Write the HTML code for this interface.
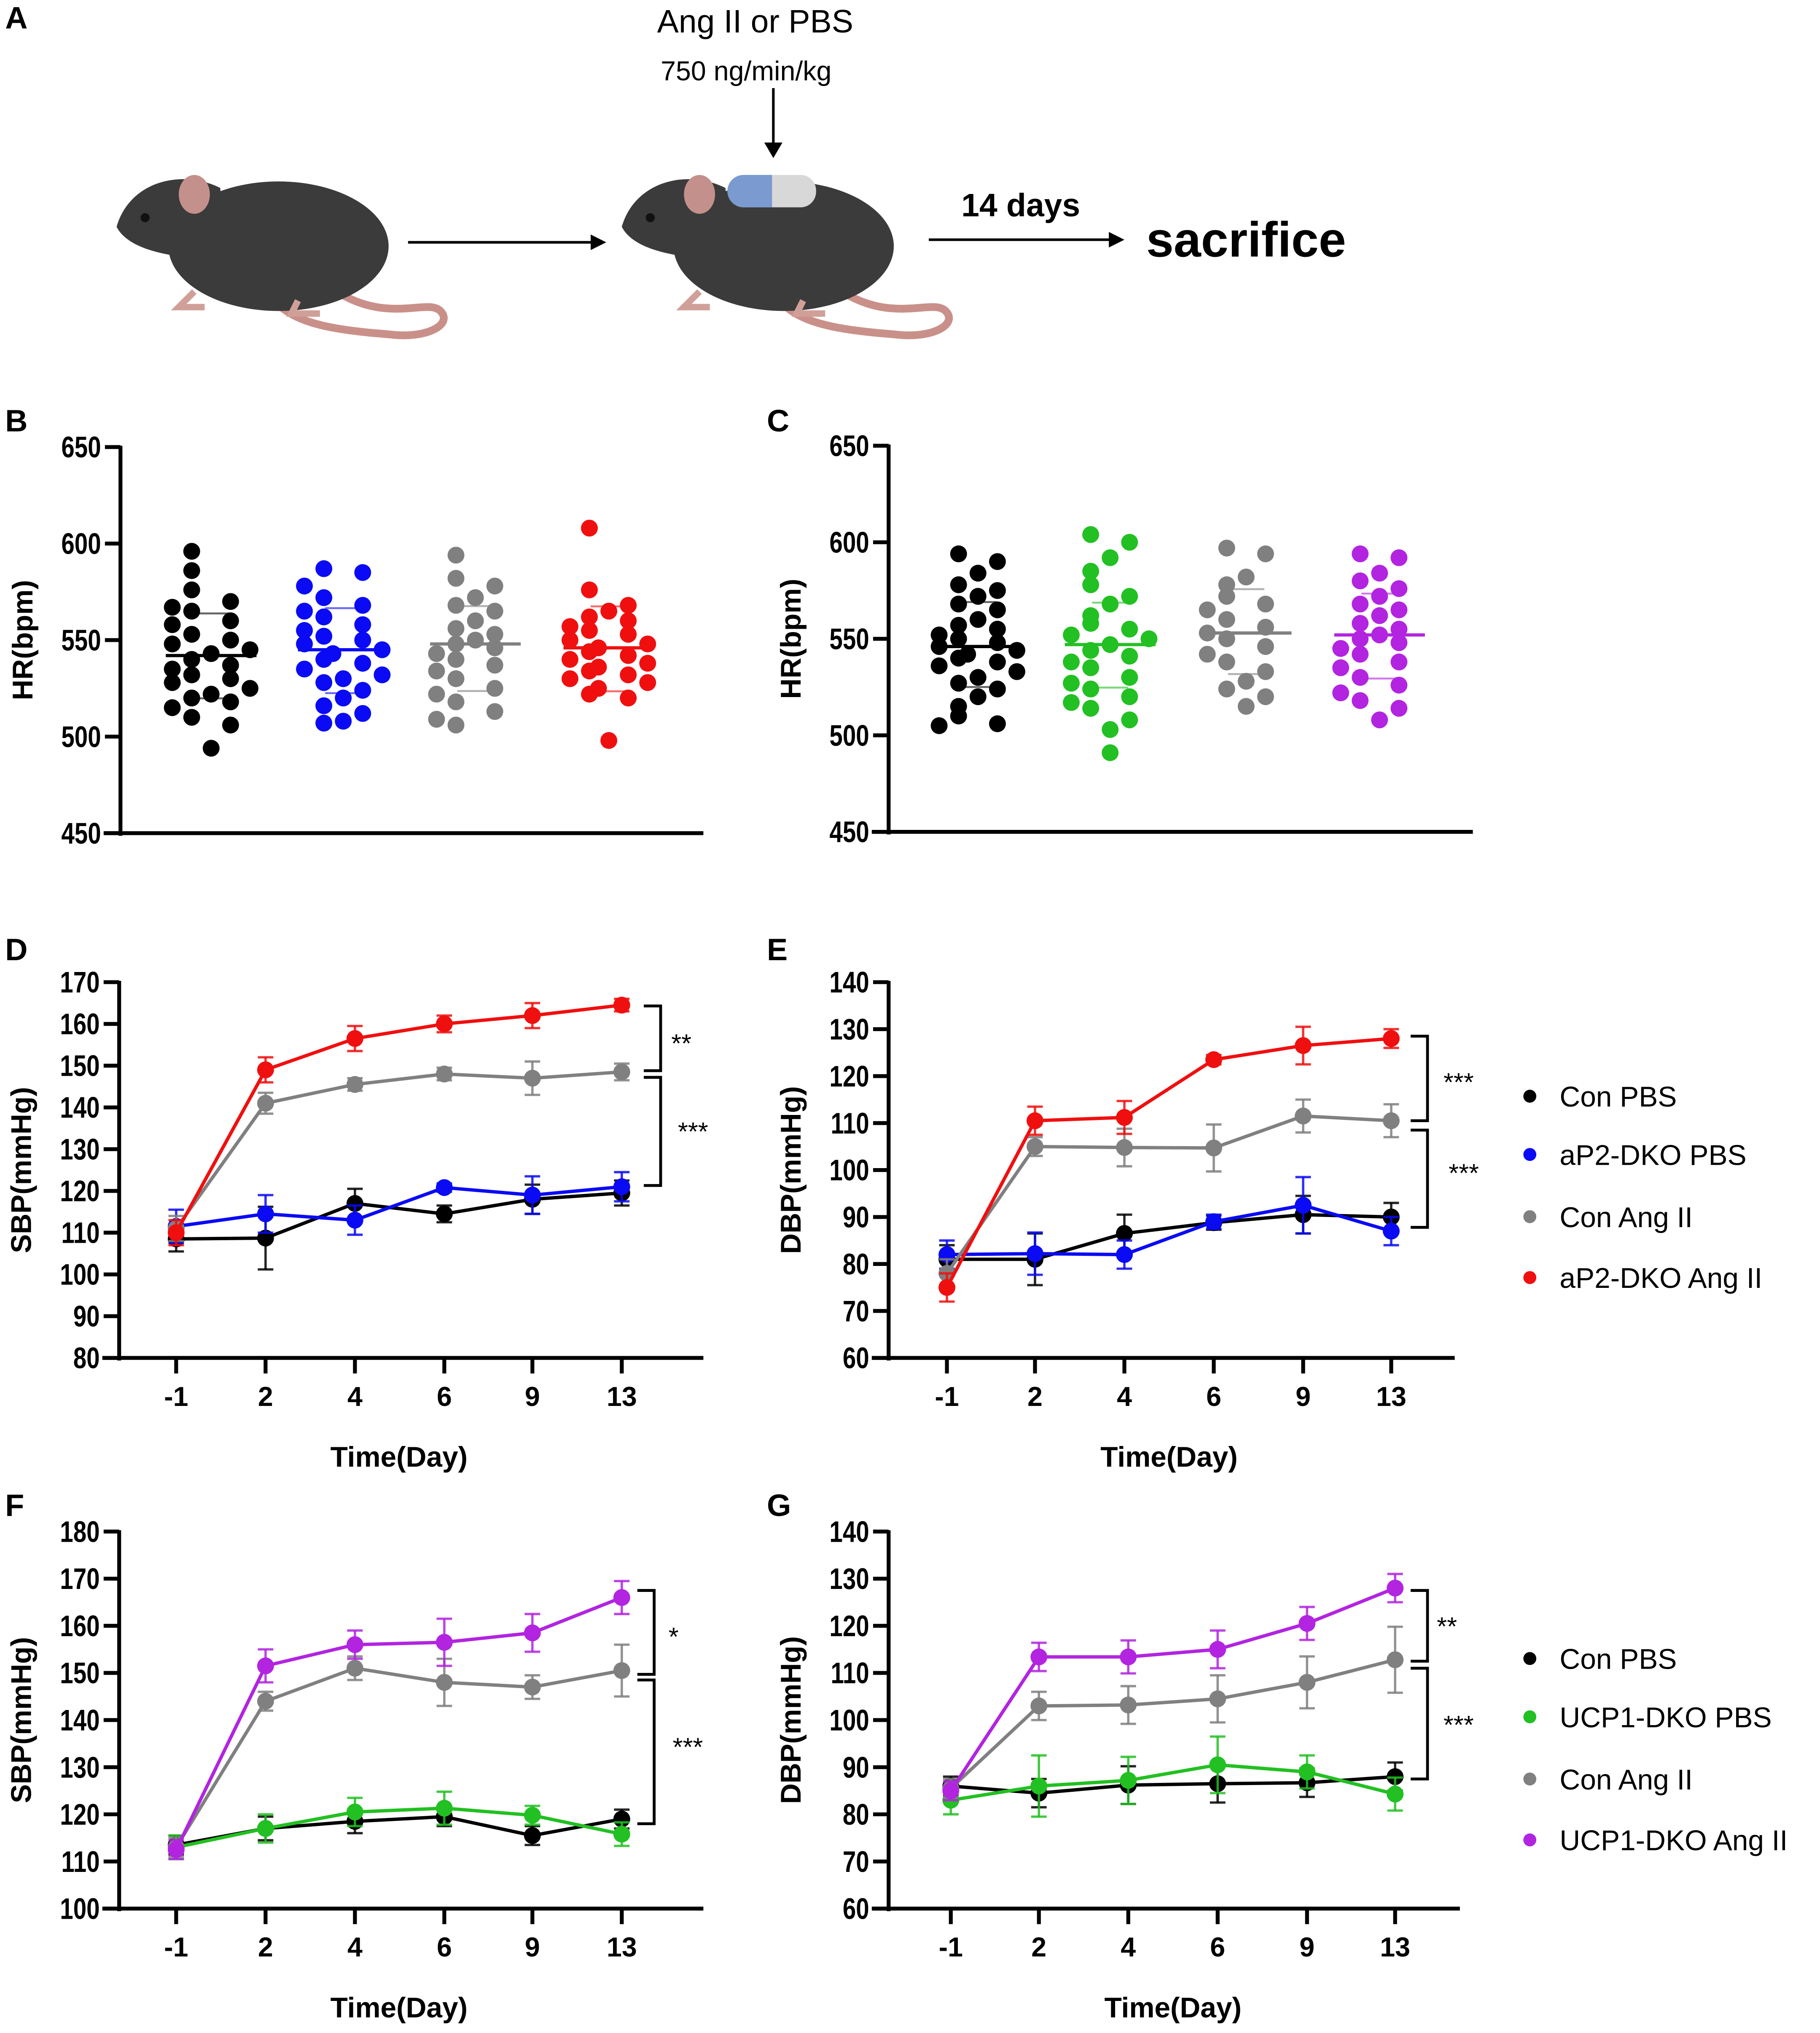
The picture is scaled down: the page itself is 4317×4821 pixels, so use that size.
<!DOCTYPE html>
<html><head><meta charset="utf-8"><style>
html,body{margin:0;padding:0;background:#fff;}
svg{display:block;font-family:"Liberation Sans",Arial,sans-serif;}
</style></head><body>
<svg id="fig" width="4317" height="4821" viewBox="0 0 1405 1569" xmlns="http://www.w3.org/2000/svg">
<g>
<text x="4" y="22" font-size="24" font-weight="bold">A</text>
<text x="583" y="25" font-size="25" text-anchor="middle">Ang II or PBS</text>
<text x="576" y="62" font-size="21" text-anchor="middle">750 ng/min/kg</text>
<line x1="597" y1="68" x2="597" y2="112" stroke="#000" stroke-width="2"/>
<polygon points="590,110 604,110 597,122" fill="#000"/>
<g>
<path d="M260,225 C300,250 330,230 340,240 C350,250 330,262 300,258 C260,255 230,250 215,235" fill="none" stroke="#c9908a" stroke-width="6"/>
<ellipse cx="215" cy="190" rx="85" ry="50" fill="#3b3b3b"/>
<path d="M90,175 C100,140 140,130 170,145 L175,200 C140,200 100,195 90,175 Z" fill="#3b3b3b"/>
<ellipse cx="150" cy="150" rx="12" ry="15" fill="#c4908c"/>
<circle cx="112" cy="168" r="3.5" fill="#111"/>
<path d="M150,225 l-12,12 h20 M230,232 l-5,10 h22" stroke="#d0a098" stroke-width="5" fill="none"/>
</g>
<line x1="315" y1="187" x2="458" y2="187" stroke="#000" stroke-width="2"/>
<polygon points="456,181 468,187 456,193" fill="#000"/>
<g>
<path d="M650,225 C690,250 720,230 730,240 C740,250 720,262 690,258 C650,255 620,250 605,235" fill="none" stroke="#c9908a" stroke-width="6"/>
<ellipse cx="605" cy="190" rx="85" ry="50" fill="#3b3b3b"/>
<path d="M480,175 C490,140 530,130 560,145 L565,200 C530,200 490,195 480,175 Z" fill="#3b3b3b"/>
<ellipse cx="540" cy="150" rx="12" ry="15" fill="#c4908c"/>
<circle cx="502" cy="168" r="3.5" fill="#111"/>
<path d="M540,225 l-12,12 h20 M620,232 l-5,10 h22" stroke="#d0a098" stroke-width="5" fill="none"/>
<rect x="562" y="135" width="68" height="25" rx="12" fill="#d8d8d8"/>
<path d="M574,135 h22 v25 h-22 a12,12 0 0 1 0,-25 z" fill="#7a9ad0"/>
</g>
<text x="788" y="167" font-size="25" font-weight="bold" text-anchor="middle">14 days</text>
<line x1="717" y1="185" x2="858" y2="185" stroke="#000" stroke-width="2"/>
<polygon points="856,179 868,185 856,191" fill="#000"/>
<text x="962" y="198" font-size="38" font-weight="bold" text-anchor="middle">sacrifice</text>
</g>
<g id="plots"></g>
</svg>
<script>
const hrTicks=[450,500,550,600,650];
const bBlack=[596,586,576,570,567,565,560,558,553,550,548,545,543,540,537,535,532,530,528,525,522,520,518,515,510,506,494];
const bBlue=[587,585,578,572,568,565,562,558,555,552,550,548,545,543,540,538,535,532,530,528,524,520,516,512,508,507];
const bGray=[594,582,578,572,568,565,560,556,553,550,548,546,543,540,537,534,530,525,522,518,513,509,506];
const bRed=[608,576,568,565,562,560,557,555,553,550,548,546,544,542,540,538,536,534,532,530,528,525,522,520,498];
const bMeans=[542,545,548,546];
const cBlack=[594,590,584,578,575,572,568,565,560,557,555,552,550,548,546,544,542,540,538,536,533,530,527,524,520,515,510,506,505];
const cGreen=[604,600,592,585,578,572,568,562,558,555,552,550,547,544,541,538,535,530,527,524,520,517,514,508,503,491];
const cGray=[597,594,582,578,572,568,565,560,556,553,550,546,542,538,533,528,524,520,515];
const cPurple=[594,592,584,580,576,572,568,565,562,558,555,552,550,548,545,542,538,535,530,526,522,518,514,508];
const cMeans=[546,547,553,552];
const days=["-1","2","4","6","9","13"];
const sbpTicksD=[80,90,100,110,120,130,140,150,160,170];
const dConPBS=[108.5,108.7,117,114.5,118,119.5];
const dConPBSerr=[3,7.5,3.5,2,3.5,3];
const dKoPBS=[111.5,114.5,113,120.8,119,121];
const dKoPBSerr=[4,4.5,3.5,1,4.5,3.5];
const dConAng=[111,141,145.5,148,147,148.5];
const dConAngErr=[3,2.5,1.5,1.5,4,2];
const dKoAng=[110,149,156.5,160,162,164.5];
const dKoAngErr=[3,3,3,2,3,1.5];
const dbpTicks=[60,70,80,90,100,110,120,130,140];
const eConPBS=[81,81,86.5,88.8,90.5,90];
const eConPBSerr=[3,5.5,4,1.5,4,3];
const eKoPBS=[82,82.2,82,89,92.5,87];
const eKoPBSerr=[3,4.5,3,1.5,6,3];
const eConAng=[78,105,104.8,104.7,111.5,110.5];
const eConAngErr=[3,2,4,5,3.5,3.5];
const eKoAng=[75,110.5,111.2,123.5,126.5,128];
const eKoAngErr=[3,3,3.5,1,4,2];
const sbpTicksF=[100,110,120,130,140,150,160,170,180];
const fConPBS=[113.5,117,118.5,119.5,115.5,119];
const fConPBSerr=[2,2.5,2.5,2,2,2];
const fKoPBS=[113,117,120.5,121.3,119.8,115.8];
const fKoPBSerr=[2.5,3,3,3.5,2,2.5];
const fConAng=[113,144,151,148,147,150.5];
const fConAngErr=[2,2,2.5,5,2.5,5.5];
const fKoAng=[112.5,151.5,156,156.5,158.5,166];
const fKoAngErr=[2,3.5,3,5,4,3.5];
const gConPBS=[86,84.5,86.2,86.5,86.7,88];
const gConPBSerr=[2,3,4,4,3,3];
const gKoPBS=[83,86,87.2,90.5,89,84.3];
const gKoPBSerr=[3,6.5,5,6,3.5,3.5];
const gConAng=[85.5,103,103.2,104.5,108,112.8];
const gConAngErr=[2,3,4,5,5.5,7];
const gKoAng=[85,113.4,113.4,115,120.5,128];
const gKoAngErr=[2,3,3.5,4,3.5,3];
const legendDE=["Con PBS","aP2-DKO PBS","Con Ang II","aP2-DKO Ang II"];
const legendFG=["Con PBS","UCP1-DKO PBS","Con Ang II","UCP1-DKO Ang II"];

const NS="http://www.w3.org/2000/svg";
const root=document.getElementById('plots');
function mk(tag,attrs,parent){const e=document.createElementNS(NS,tag);for(const k in attrs)e.setAttribute(k,attrs[k]);(parent||root).appendChild(e);return e;}
function txt(s,attrs,parent){const e=mk('text',attrs,parent);e.textContent=s;return e;}
const C={black:"#000",blue:"#0a0af5",gray:"#808080",red:"#f00f0f",green:"#22c022",purple:"#b224e0"};

function yAxis(g,x,yTop,yBot,ticks,label,xEnd){
  const lo=ticks[0],hi=ticks[ticks.length-1];
  const sc=v=>yBot-(v-lo)/(hi-lo)*(yBot-yTop);
  const ax=mk('line',{x1:x,y1:yTop-1,x2:x,y2:yBot+2,stroke:"#000","stroke-width":3},g);
  
  
  const xa=mk('line',{x1:x-13,y1:yBot,x2:xEnd,y2:yBot,stroke:"#000","stroke-width":3},g);
  
  
  ticks.forEach(t=>{
    mk('line',{x1:x-12,y1:sc(t),x2:x,y2:sc(t),stroke:"#000","stroke-width":3},g);
    const tl=txt(String(t),{x:x-15,y:sc(t)+8,"font-size":23,"font-weight":"bold","text-anchor":"end",transform:`translate(${x-15},0) scale(0.8,1) translate(${-(x-15)},0)`},g);
    
    
  });
  const yl=txt(label,{x:0,y:0,"font-size":22,"font-weight":"bold","text-anchor":"middle",transform:`translate(${x-68},${(yTop+yBot)/2}) rotate(-90)`},g);
  
  
  return sc;
}

function scatterPanel(name,letter,lx,ly,x,yTop,yBot,xEnd,centers,groups,colors,means){
  const g=mk('g',{});
  
  
  const pl=txt(letter,{x:lx,y:ly,"font-size":24,"font-weight":"bold"},g);
  
  
  const sc=yAxis(g,x,yTop,yBot,hrTicks,"HR(bpm)",xEnd);
  groups.forEach((vals,gi)=>{
    const cx=centers[gi];
    const sorted=[...vals].sort((a,b)=>b-a);
    const pattern=[0,-15,15,-30,30,-8,8,-22,22];
    let clusterStart=null,k=0;
    sorted.forEach(v=>{
      if(clusterStart===null||clusterStart-v>9){clusterStart=v;k=(k%2)?0:1;}
      const off=pattern[k%pattern.length];k++;
      const d=mk('circle',{cx:cx+off,cy:sc(v),r:6.5,fill:colors[gi]},g);
      
      
    });
    const m=mk('line',{x1:cx-35,x2:cx+35,y1:sc(means[gi]),y2:sc(means[gi]),stroke:colors[gi],"stroke-width":2.5},g);
    
    
    const sdv=[...vals].reduce((a,b)=>a+b,0)/vals.length;
    mk('line',{x1:cx-14,x2:cx+14,y1:sc(sdv+22),y2:sc(sdv+22),stroke:colors[gi],"stroke-width":1.5,opacity:.6},g);
    mk('line',{x1:cx-14,x2:cx+14,y1:sc(sdv-22),y2:sc(sdv-22),stroke:colors[gi],"stroke-width":1.5,opacity:.6},g);
  });
}

function linePanel(name,letter,lx,ly,x,yTop,yBot,xEnd,ticks,label,xs,series){
  const g=mk('g',{});
  
  
  const pl=txt(letter,{x:lx,y:ly,"font-size":24,"font-weight":"bold"},g);
  
  
  const sc=yAxis(g,x,yTop,yBot,ticks,label,xEnd);
  days.forEach((d,i)=>{
    mk('line',{x1:xs[i],x2:xs[i],y1:yBot,y2:yBot+12,stroke:"#000","stroke-width":3},g);
    const tl=txt(d,{x:xs[i],y:yBot+37,"font-size":21,"font-weight":"bold","text-anchor":"middle"},g);
    
    
  });
  const xt=txt("Time(Day)",{x:(xs[0]+xs[5])/2,y:yBot+84,"font-size":22,"font-weight":"bold","text-anchor":"middle"},g);
  
  
  series.forEach(s=>{
    const sg=mk('g',{},g);
    
    
    s.vals.forEach((v,i)=>{
      const e=s.err[i];
      mk('line',{x1:xs[i],x2:xs[i],y1:sc(v-e),y2:sc(v+e),stroke:s.color,"stroke-width":1.8,opacity:.85},sg);
      mk('line',{x1:xs[i]-6,x2:xs[i]+6,y1:sc(v+e),y2:sc(v+e),stroke:s.color,"stroke-width":1.8,opacity:.85},sg);
      mk('line',{x1:xs[i]-6,x2:xs[i]+6,y1:sc(v-e),y2:sc(v-e),stroke:s.color,"stroke-width":1.8,opacity:.85},sg);
    });
    const pts=s.vals.map((v,i)=>xs[i]+","+sc(v)).join(" ");
    const pl2=mk('polyline',{points:pts,fill:"none",stroke:s.color,"stroke-width":2.6},sg);
    
    
    s.vals.forEach((v,i)=>{
      const c=mk('circle',{cx:xs[i],cy:sc(v),r:6.5,fill:s.color},sg);
      
      
    });
  });
  return {g,sc};
}

function bracket(g,x,y1,y2,label,tx,ty){
  const p=mk('path',{d:`M${x-13},${y1} H${x} V${y2} H${x-13}`,fill:"none",stroke:"#000","stroke-width":2.2},g);
  
  
  const t=txt(label,{x:tx,y:ty,"font-size":20,"text-anchor":"middle"},g);
  
  
}

function legend(name,x,ys,labels,colors){
  const g=mk('g',{});
  
  
  labels.forEach((l,i)=>{
    const c=mk('circle',{cx:x,cy:ys[i],r:5,fill:colors[i]},g);
    
    
    const t=txt(l,{x:x+23,y:ys[i]+8,"font-size":22},g);
    
    
  });
}

scatterPanel('panel-b-heart-rate','B',4,333,93,345,643,543,[163,265,367,470],[bBlack,bBlue,bGray,bRed],[C.black,C.blue,C.gray,C.red],bMeans);
scatterPanel('panel-c-heart-rate','C',592,333,686,344,642,1137,[755,857,962,1065],[cBlack,cGreen,cGray,cPurple],[C.black,C.green,C.gray,C.purple],cMeans);

const xsL=[136,205,274,343,411,480], xsR=[731,799,868,937,1006,1074], xsG=[734,802,871,940,1009,1077];
let P=linePanel('panel-d-sbp','D',4,741,92,758,1048,543,sbpTicksD,"SBP(mmHg)",xsL,[
 {name:'con-pbs',vals:dConPBS,err:dConPBSerr,color:C.black},
 {name:'ap2-dko-pbs',vals:dKoPBS,err:dKoPBSerr,color:C.blue},
 {name:'con-ang-ii',vals:dConAng,err:dConAngErr,color:C.gray},
 {name:'ap2-dko-ang-ii',vals:dKoAng,err:dKoAngErr,color:C.red}]);
bracket(P.g,510,P.sc(164.3),P.sc(148.8),"**",526,812);
bracket(P.g,510,P.sc(147.2),P.sc(121.3),"***",535,880);
P=linePanel('panel-e-dbp','E',592,741,686,758,1048,1123,dbpTicks,"DBP(mmHg)",xsR,[
 {name:'con-pbs',vals:eConPBS,err:eConPBSerr,color:C.black},
 {name:'ap2-dko-pbs',vals:eKoPBS,err:eKoPBSerr,color:C.blue},
 {name:'con-ang-ii',vals:eConAng,err:eConAngErr,color:C.gray},
 {name:'ap2-dko-ang-ii',vals:eKoAng,err:eKoAngErr,color:C.red}]);
bracket(P.g,1102,P.sc(128.5),P.sc(110.5),"***",1126,842);
bracket(P.g,1102,P.sc(108.5),P.sc(87.8),"***",1130,912);
legend('legend-de',1181,[846,891,939,986],legendDE,[C.black,C.blue,C.gray,C.red]);
P=linePanel('panel-f-sbp','F',4,1170,92,1182,1473,543,sbpTicksF,"SBP(mmHg)",xsL,[
 {name:'con-pbs',vals:fConPBS,err:fConPBSerr,color:C.black},
 {name:'ucp1-dko-pbs',vals:fKoPBS,err:fKoPBSerr,color:C.green},
 {name:'con-ang-ii',vals:fConAng,err:fConAngErr,color:C.gray},
 {name:'ucp1-dko-ang-ii',vals:fKoAng,err:fKoAngErr,color:C.purple}]);
bracket(P.g,505,P.sc(167.5),P.sc(149.7),"*",520,1270);
bracket(P.g,505,P.sc(148.5),P.sc(118),"***",531,1355);
P=linePanel('panel-g-dbp','G',592,1170,686,1182,1473,1127,dbpTicks,"DBP(mmHg)",xsG,[
 {name:'con-pbs',vals:gConPBS,err:gConPBSerr,color:C.black},
 {name:'ucp1-dko-pbs',vals:gKoPBS,err:gKoPBSerr,color:C.green},
 {name:'con-ang-ii',vals:gConAng,err:gConAngErr,color:C.gray},
 {name:'ucp1-dko-ang-ii',vals:gKoAng,err:gKoAngErr,color:C.purple}]);
bracket(P.g,1102,P.sc(127.5),P.sc(112.5),"**",1117,1262);
bracket(P.g,1102,P.sc(111),P.sc(87.5),"***",1126,1338);
legend('legend-fg',1181,[1280,1325,1373,1420],legendFG,[C.black,C.green,C.gray,C.purple]);
</script>
</body></html>
